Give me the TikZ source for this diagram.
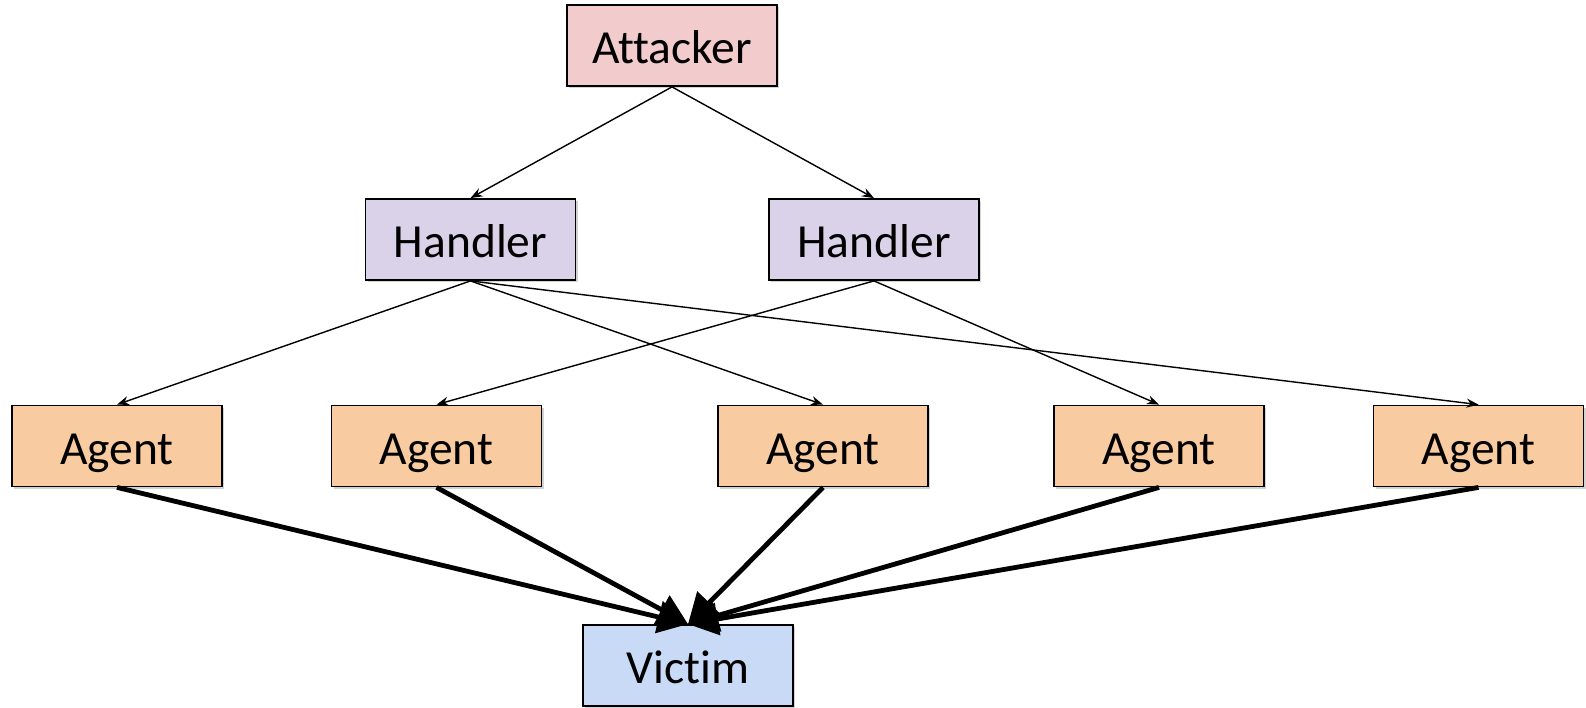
\documentclass[tikz,border=0pt]{standalone}
\usepackage{fontspec}
\setmainfont[Ligatures=CommonOff]{Carlito}
\usetikzlibrary{arrows.meta,shadows}
\definecolor{attfill}{HTML}{F2CCCD}
\definecolor{handfill}{HTML}{D9D2E9}
\definecolor{agfill}{HTML}{F8CBA0}
\definecolor{vicfill}{HTML}{C8DAF5}
\tikzset{
  box/.style={draw=black, line width=1.8pt, minimum width=210pt, minimum height=81pt,
    inner sep=0pt, text height=40pt, text depth=4pt, font=\fontsize{47.5}{52}\selectfont,
    drop shadow={shadow xshift=2pt, shadow yshift=-2pt, opacity=0.35, fill=gray}},
  thin arrow/.style={line width=1.4pt, -{Stealth[length=12pt,width=9pt]}},
  thick arrow/.style={line width=4.8pt, -{Triangle[length=30pt,width=32pt]}}
}
\begin{document}
\begin{tikzpicture}[x=1pt,y=-1pt]
\useasboundingbox (0,0) rectangle (1586,707);
\node[box, fill=attfill] (att) at (672,45.5) {Attacker};
\node[box, fill=handfill] (h1) at (470.5,239.5) {Handler};
\node[box, fill=handfill] (h2) at (874,239.5) {Handler};
\node[box, fill=agfill] (a1) at (117,446) {Agent};
\node[box, fill=agfill] (a2) at (436.5,446) {Agent};
\node[box, fill=agfill] (a3) at (823,446) {Agent};
\node[box, fill=agfill] (a4) at (1159,446) {Agent};
\node[box, fill=agfill] (a5) at (1478.5,446) {Agent};
\node[box, fill=vicfill] (vic) at (688,665.5) {Victim};

\draw[thin arrow] (att.south) -- (h1.north);
\draw[thin arrow] (att.south) -- (h2.north);
\draw[thin arrow] (h1.south) -- (a1.north);
\draw[thin arrow] (h1.south) -- (a3.north);
\draw[thin arrow] (h1.south) -- (a5.north);
\draw[thin arrow] (h2.south) -- (a2.north);
\draw[thin arrow] (h2.south) -- (a4.north);

\foreach \a in {a1,a2,a3,a4,a5}
  \draw[thick arrow] (\a.south) -- (vic.north);
\end{tikzpicture}
\end{document}
